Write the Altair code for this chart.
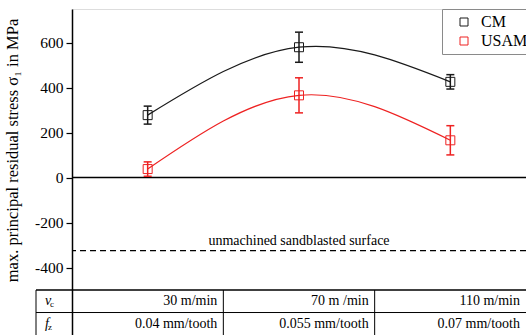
import altair as alt
import pandas as pd

# ---- data ----
idx = [0, 1, 2]
series = ["CM", "USAM"]
cm_mean = [278, 580, 426]
cm_err = [40, 67, 32]
usam_mean = [38, 366, 166]
usam_err = [32, 78, 65]
sandblasted = -325
ref_label = "unmachined sandblasted surface"
vc_labels = ["30 m/min", "70 m /min", "110 m/min"]
fz_labels = ["0.04 mm/tooth", "0.055 mm/tooth", "0.07 mm/tooth"]
row_names = ["v", "f"]
row_subs = ["c", "z"]
row_y = [-550, -650]

FONT = "Liberation Serif"
RED = "#ee2222"
BLK = "#1a1a1a"

rows = []
for s, m, e in [("CM", cm_mean, cm_err), ("USAM", usam_mean, usam_err)]:
    for i, mv, ev in zip(idx, m, e):
        rows.append({"series": s, "x": i, "y": mv, "lo": mv - ev, "hi": mv + ev})
df = pd.DataFrame(rows)

xs = alt.Scale(domain=[-0.5, 2.5], nice=False, zero=False)
ys = alt.Scale(domain=[-700, 750], nice=False, zero=False)
cscale = alt.Scale(domain=series, range=[BLK, RED])
color = alt.Color(
    "series:N",
    scale=cscale,
    legend=alt.Legend(
        title=None, orient="none", legendX=370, legendY=0,
        strokeColor="#8a8a8a", fillColor="white", padding=5,
        symbolOffset=9, symbolType="square", symbolSize=64,
        symbolStrokeWidth=1, labelFont=FONT, labelFontSize=16,
        labelColor="black", labelOffset=9, rowPadding=3,
    ),
)
nolegend = alt.Color("series:N", scale=cscale, legend=None)

base = alt.Chart(df)

yaxis = alt.Axis(
    values=list(range(-400, 701, 100)),
    labelExpr="datum.value % 200 == 0 ? toString(datum.value) : ''",
    tickSize={"condition": {"test": "datum.value % 200 == 0", "value": 6}, "value": 4},
    labelFont=FONT, labelFontSize=15.5, labelColor="black", labelPadding=3,
    domainColor="black", domainWidth=1.5, tickColor="black", tickWidth=1.2,
    grid=False,
    title="max. principal residual stress σ₁ in MPa",
    titleFont=FONT, titleFontSize=16.5, titleFontWeight="normal", titleColor="black",
    titleX=-60, titleY=141, titleAngle=-90, titleBaseline="middle",
)

zero = alt.Chart(pd.DataFrame({"y": [0]})).mark_rule(color="black", strokeWidth=1.5).encode(
    y=alt.Y("y:Q", scale=ys, axis=yaxis)
)

dashed = alt.Chart(pd.DataFrame({"y": [sandblasted]})).mark_rule(
    color="black", strokeWidth=1.2, strokeDash=[6, 4]
).encode(y=alt.Y("y:Q", scale=ys))

ref_txt = alt.Chart(pd.DataFrame({"x": [1], "y": [sandblasted], "t": [ref_label]})).mark_text(
    font=FONT, fontSize=14, color="black", baseline="bottom", dy=-3
).encode(x=alt.X("x:Q", scale=xs, axis=None), y=alt.Y("y:Q", scale=ys), text="t:N")

lines = base.mark_line(interpolate="natural", strokeWidth=1.2).encode(
    x=alt.X("x:Q", scale=xs, axis=None), y=alt.Y("y:Q", scale=ys), color=color
)

bars = base.mark_rule(strokeWidth=1.5).encode(
    x=alt.X("x:Q", scale=xs), y=alt.Y("lo:Q", scale=ys), y2="hi:Q", color=nolegend,
)
cap_hi = base.mark_rule(strokeWidth=1.5, xOffset=-4, x2Offset=4).encode(
    x=alt.X("x:Q", scale=xs), x2="x:Q", y=alt.Y("hi:Q", scale=ys), color=nolegend,
)
cap_lo = base.mark_rule(strokeWidth=1.5, xOffset=-4, x2Offset=4).encode(
    x=alt.X("x:Q", scale=xs), x2="x:Q", y=alt.Y("lo:Q", scale=ys), color=nolegend,
)

points = base.mark_point(shape="square", filled=False, size=81, strokeWidth=1, opacity=1).encode(
    x=alt.X("x:Q", scale=xs), y=alt.Y("y:Q", scale=ys), color=color
)

# ---- table below ----
hlines = alt.Chart(pd.DataFrame({"y": [-500, -600], "w": [1.5, 1.0]})).mark_rule(color="black").encode(
    x=alt.value(-36), x2=alt.value(454), y=alt.Y("y:Q", scale=ys),
    strokeWidth=alt.StrokeWidth("w:Q", scale=None),
)
vlines = alt.Chart(pd.DataFrame({"x": [0.5, 1.5]})).mark_rule(color="black", strokeWidth=1).encode(
    x=alt.X("x:Q", scale=xs), y=alt.datum(-500, scale=ys), y2=alt.datum(-700)
)
lborder = alt.Chart(pd.DataFrame({"y": [-500]})).mark_rule(color="black", strokeWidth=1).encode(
    x=alt.value(-36), y=alt.Y("y:Q", scale=ys), y2=alt.datum(-700)
)

tab_rows = []
for i in idx:
    tab_rows.append({"x": i + 0.5, "y": row_y[0], "t": vc_labels[i]})
    tab_rows.append({"x": i + 0.5, "y": row_y[1], "t": fz_labels[i]})
tab_txt = alt.Chart(pd.DataFrame(tab_rows)).mark_text(
    font=FONT, fontSize=14, color="black", align="right", baseline="middle", dx=-6
).encode(x=alt.X("x:Q", scale=xs), y=alt.Y("y:Q", scale=ys), text="t:N")

name_df = pd.DataFrame({"y": row_y, "t": row_names, "s": row_subs, "sx": [-22, -24]})
names = alt.Chart(name_df).mark_text(
    font=FONT, fontSize=14, fontStyle="italic", color="black", align="left", baseline="middle"
).encode(x=alt.value(-27), y=alt.Y("y:Q", scale=ys), text="t:N")
subs = alt.Chart(name_df).mark_text(
    font=FONT, fontSize=9, color="black", align="left", baseline="middle", dy=3
).encode(x=alt.X("sx:Q", scale=None), y=alt.Y("y:Q", scale=ys), text="s:N")

chart = alt.layer(
    zero, dashed, ref_txt, lines, bars, cap_hi, cap_lo, points,
    hlines, vlines, lborder, tab_txt, names, subs,
).properties(
    width=454, height=326,
    autosize=alt.AutoSizeParams(type="none"),
    padding={"left": 72, "top": 9, "right": 0, "bottom": 0},
).configure_view(stroke=None).configure(background="white")

chart.save("out.html", embed_options={"renderer": "svg", "actions": False})
